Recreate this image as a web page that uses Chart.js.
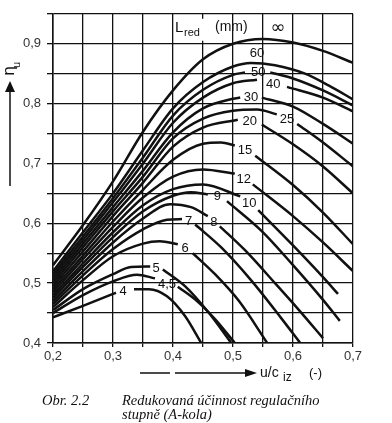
<!DOCTYPE html>
<html>
<head>
<meta charset="utf-8">
<script src="https://cdn.jsdelivr.net/npm/chart.js@4"></script>
<style>
  body { margin: 0; background: #fff; }
  #wrap { position: relative; width: 392px; height: 423px; }
  .cap { position: absolute; font: italic 14.5px "Liberation Serif", serif; color: #111; line-height: 14px; }
</style>
</head>
<body>
<div id="wrap">
  <canvas id="effChart" width="392" height="423"></canvas>
  <div class="cap" style="left:42px; top:393px;">Obr. 2.2</div>
  <div class="cap" style="left:122px; top:393px;">Redukovaná účinnost regulačního<br>stupně (A-kola)</div>
</div>
<script>
// curves of reduced efficiency, one per L_red (mm); [u/c_iz, eta_u], null = break for the label
const curveNames = ['∞', '60', '50', '40', '30', '25', '20', '15', '12', '10', '9', '8', '7', '6', '5', '4,5', '4'];

const cInf = [[0.2,0.53],[0.25,0.597],[0.3,0.67],[0.35,0.753],[0.4,0.822],[0.45,0.874],[0.5,0.9],[0.55,0.908],[0.6,0.902],[0.65,0.888],[0.7,0.868]];
const c60 = [[0.2,0.52],[0.25,0.585],[0.3,0.65],[0.35,0.722],[0.4,0.792],[0.45,0.836],[0.5,0.862],[0.53,0.868],[0.57,0.864],[0.62,0.85],[0.66,0.83],[0.7,0.807]];
const c50 = [[0.2,0.515],[0.25,0.578],[0.3,0.642],[0.35,0.71],[0.4,0.78],[0.45,0.823],[0.5,0.848],[0.52,0.852],[0.54,null],[0.562,0.852],[0.6,0.842],[0.65,0.822],[0.7,0.797]];
const c40 = [[0.2,0.51],[0.25,0.572],[0.3,0.635],[0.35,0.7],[0.4,0.768],[0.45,0.81],[0.5,0.834],[0.54,0.84],[0.565,null],[0.59,0.828],[0.65,0.81],[0.7,0.787]];
const c30 = [[0.2,0.505],[0.25,0.566],[0.3,0.627],[0.35,0.688],[0.4,0.752],[0.45,0.792],[0.5,0.808],[0.512,0.81],[0.53,null],[0.548,0.81],[0.6,0.795],[0.65,0.766],[0.7,0.733]];
const c25 = [[0.2,0.5],[0.25,0.56],[0.3,0.62],[0.35,0.678],[0.4,0.742],[0.45,0.775],[0.5,0.788],[0.54,0.79],[0.573,0.782],[0.59,null],[0.607,0.766],[0.65,0.735],[0.7,0.695]];
const c20 = [[0.2,0.495],[0.25,0.553],[0.3,0.612],[0.35,0.668],[0.4,0.728],[0.45,0.76],[0.508,0.773],[0.528,null],[0.548,0.765],[0.6,0.732],[0.65,0.695],[0.7,0.65]];
const c15 = [[0.2,0.49],[0.25,0.546],[0.3,0.603],[0.35,0.656],[0.4,0.706],[0.45,0.733],[0.48,0.735],[0.503,0.73],[0.52,null],[0.537,0.713],[0.6,0.664],[0.65,0.618],[0.7,0.565]];
const c12 = [[0.2,0.485],[0.25,0.54],[0.3,0.594],[0.35,0.643],[0.4,0.678],[0.45,0.69],[0.503,0.683],[0.518,null],[0.533,0.665],[0.6,0.612],[0.65,0.568],[0.7,0.52]];
const c10 = [[0.2,0.48],[0.25,0.533],[0.3,0.585],[0.35,0.63],[0.4,0.657],[0.45,0.665],[0.512,0.645],[0.527,null],[0.542,0.622],[0.6,0.563],[0.65,0.51],[0.675,0.482]];
const c9 = [[0.2,0.475],[0.25,0.527],[0.3,0.577],[0.35,0.62],[0.4,0.646],[0.43,0.652],[0.458,0.648],[0.474,null],[0.49,0.637],[0.55,0.585],[0.6,0.53],[0.65,0.472],[0.678,0.437]];
const c8 = [[0.2,0.47],[0.25,0.52],[0.3,0.568],[0.35,0.608],[0.395,0.632],[0.43,0.627],[0.458,0.612],[0.468,null],[0.478,0.595],[0.52,0.555],[0.57,0.5],[0.61,0.455],[0.65,0.408]];
const c7 = [[0.2,0.465],[0.25,0.513],[0.3,0.557],[0.35,0.59],[0.39,0.606],[0.415,0.607],[0.426,null],[0.437,0.598],[0.48,0.56],[0.53,0.505],[0.58,0.442],[0.612,0.4]];
const c6 = [[0.2,0.46],[0.25,0.505],[0.3,0.545],[0.35,0.566],[0.378,0.57],[0.408,0.565],[0.42,null],[0.433,0.55],[0.47,0.515],[0.51,0.47],[0.557,0.4]];
const c5 = [[0.2,0.455],[0.25,0.49],[0.3,0.515],[0.33,0.527],[0.362,0.528],[0.372,null],[0.383,0.523],[0.42,0.495],[0.46,0.45],[0.497,0.4]];
const c45 = [[0.2,0.45],[0.25,0.48],[0.3,0.503],[0.34,0.514],[0.37,0.508],[0.39,null],[0.408,0.494],[0.44,0.47],[0.47,0.44],[0.503,0.4]];
const c4 = [[0.2,0.443],[0.25,0.462],[0.3,0.482],[0.305,0.484],[0.317,null],[0.335,0.49],[0.36,0.49],[0.39,0.478],[0.42,0.445],[0.447,0.4]];

const curves = [cInf, c60, c50, c40, c30, c25, c20, c15, c12, c10, c9, c8, c7, c6, c5, c45, c4];

// where each curve's number is written, in chart units
const labelAt = [[0.575,0.925],[0.54,0.883],[0.542,0.852],[0.567,0.832],[0.53,0.81],[0.59,0.774],[0.528,0.77],[0.52,0.722],[0.518,0.673],[0.527,0.633],[0.474,0.645],[0.468,0.602],[0.426,0.603],[0.42,0.558],[0.372,0.525],[0.39,0.498],[0.317,0.487]];

const xTicks = [0.2, 0.3, 0.4, 0.5, 0.6, 0.7];
const yTicks = [0.4, 0.5, 0.6, 0.7, 0.8, 0.9];

const INK = '#111';

const isMajor = (v, list) => list.some(t => Math.abs(t - v) < 1e-6);
const fmt = v => v.toFixed(1).replace('.', ',');

const datasets = curves.map((pts, i) => ({
    label: curveNames[i],
    data: pts.map(p => ({ x: p[0], y: p[1] })),
    borderColor: INK,
    borderWidth: 2.5,
    pointRadius: 0,
    cubicInterpolationMode: 'monotone',
    spanGaps: false,
    fill: false
}));

const decor = {
    id: 'decor',
    afterDatasetsDraw(chart) {
        const ctx = chart.ctx;
        const xs = chart.scales.x, ys = chart.scales.y;
        ctx.save();
        ctx.fillStyle = INK;
        ctx.textAlign = 'center';
        ctx.textBaseline = 'middle';
        labelAt.forEach((p, i) => {
            ctx.font = i === 0 ? '18px "DejaVu Sans"' : '13px "Liberation Sans"';
            ctx.fillText(curveNames[i], xs.getPixelForValue(p[0]), ys.getPixelForValue(p[1]));
        });

        // L_red (mm) heading inside the plot
        const lx = xs.getPixelForValue(0.4) + 2, ly = ys.getPixelForValue(0.925);
        ctx.fillStyle = '#fff';
        ctx.fillRect(lx - 1, ly - 10, 30, 22);
        ctx.fillStyle = INK;
        ctx.textAlign = 'left';
        ctx.textBaseline = 'alphabetic';
        ctx.font = '15px "Liberation Sans"';
        ctx.fillText('L', lx, ly + 3);
        ctx.font = '11px "Liberation Sans"';
        ctx.fillText('red', lx + 9, ly + 7);
        ctx.font = '14px "Liberation Sans"';
        ctx.fillText('(mm)', lx + 40, ly + 2);

        // y axis title with arrow
        const ax = 10;
        ctx.strokeStyle = INK;
        ctx.lineWidth = 1.5;
        ctx.beginPath();
        ctx.moveTo(ax, 186);
        ctx.lineTo(ax, 90);
        ctx.stroke();
        ctx.beginPath();
        ctx.moveTo(ax, 81);
        ctx.lineTo(ax - 5, 92);
        ctx.lineTo(ax + 5, 92);
        ctx.closePath();
        ctx.fill();
        ctx.save();
        ctx.translate(ax + 4, 71);
        ctx.rotate(-Math.PI / 2);
        ctx.textAlign = 'center';
        ctx.font = '16px "DejaVu Sans"';
        ctx.fillText('η', 0, 0);
        ctx.font = '11px "Liberation Sans"';
        ctx.fillText('u', 6, 6);
        ctx.restore();

        // x axis title with arrow
        const ay = 373;
        ctx.beginPath();
        ctx.moveTo(140, ay);
        ctx.lineTo(170, ay);
        ctx.moveTo(175, ay);
        ctx.lineTo(246, ay);
        ctx.stroke();
        ctx.beginPath();
        ctx.moveTo(257, ay);
        ctx.lineTo(245, ay - 4);
        ctx.lineTo(245, ay + 4);
        ctx.closePath();
        ctx.fill();
        ctx.textAlign = 'left';
        ctx.font = '14px "Liberation Sans"';
        ctx.fillText('u/c', 260, ay + 4);
        ctx.font = '12px "Liberation Sans"';
        ctx.fillText('iz', 283, ay + 8);
        ctx.font = '13px "Liberation Sans"';
        ctx.fillText('(-)', 309, ay + 4);
        ctx.restore();
    }
};

new Chart(document.getElementById('effChart').getContext('2d'), {
    type: 'line',
    data: { datasets: datasets },
    options: {
        responsive: false,
        animation: false,
        devicePixelRatio: 1,
        layout: { padding: { top: 11, right: 39, left: 0, bottom: 0 } },
        plugins: { legend: { display: false }, tooltip: { enabled: false } },
        scales: {
            x: {
                type: 'linear',
                min: 0.2,
                max: 0.7,
                afterFit: s => { s.height = 80; },
                border: { color: INK, width: 1.5 },
                grid: { color: INK, lineWidth: 1.3, tickLength: 4, tickColor: INK },
                ticks: {
                    stepSize: 0.05,
                    color: '#333',
                    padding: 2,
                    maxRotation: 0,
                    autoSkip: false,
                    font: { family: 'Liberation Sans', size: 13 },
                    callback: v => isMajor(v, xTicks) ? fmt(v) : ''
                }
            },
            y: {
                type: 'linear',
                min: 0.4,
                max: 0.95,
                afterFit: s => { s.width = 53; },
                border: { color: INK, width: 1.5 },
                grid: { color: INK, lineWidth: 1.3, tickLength: 6, tickColor: INK },
                ticks: {
                    stepSize: 0.05,
                    color: '#333',
                    padding: 6,
                    autoSkip: false,
                    font: { family: 'Liberation Sans', size: 13 },
                    callback: v => isMajor(v, yTicks) ? fmt(v) : ''
                }
            }
        }
    },
    plugins: [decor]
});
</script>
</body>
</html>
